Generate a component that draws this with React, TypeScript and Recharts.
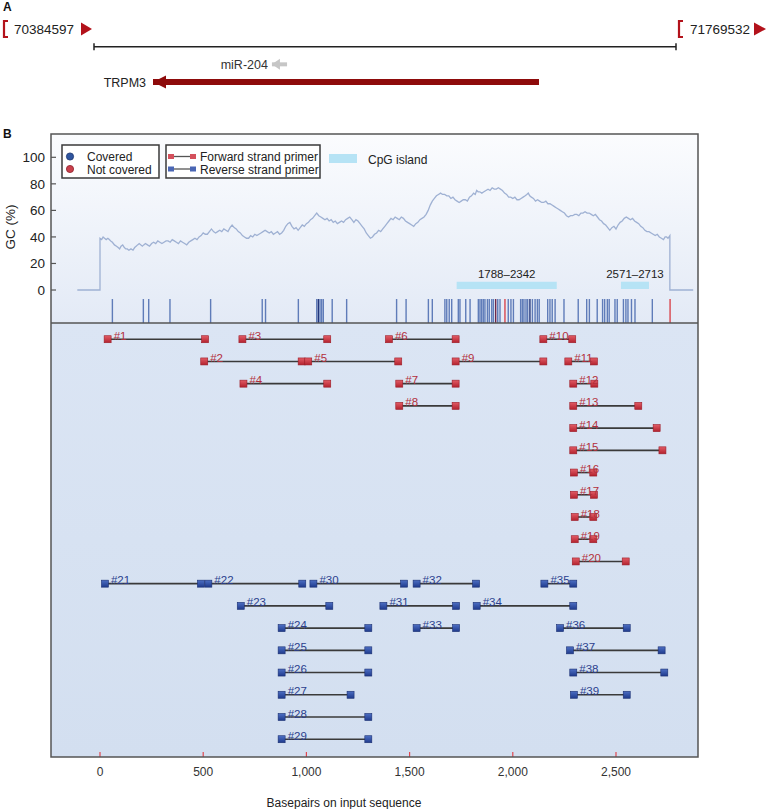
import React from 'react';
import { ComposedChart, Scatter, Line, XAxis, YAxis, ReferenceLine, ReferenceArea } from 'recharts';

const FONT = '"Liberation Sans", Arial, Helvetica, sans-serif';

// ---------- Panel A data ----------
const regionStart = 70384597;
const regionEnd = 71769532;
const trpm3Span = [70525000, 71443500]; // minus strand, tip at start
const mir204Span = [70808000, 70844000];

// ---------- Panel B data ----------
const xTicks = [0, 500, 1000, 1500, 2000, 2500];
const gcTicks = [0, 20, 40, 60, 80, 100];

const gcProfile: [number, number][] = [
  [-110, 0], [0, 0], [0, 39], [8, 38], [15, 40], [22, 39], [30, 38], [38, 39], [45, 38], [52, 37], [60, 36],
  [70, 34], [80, 33], [88, 32], [95, 31], [102, 33], [110, 34], [118, 32], [125, 31], [132, 31], [140, 30],
  [150, 31], [160, 30], [168, 32], [175, 33], [182, 34], [190, 35], [198, 34], [205, 33], [212, 34], [220, 35],
  [230, 34], [240, 33], [250, 35], [260, 36], [270, 35], [280, 37], [290, 36], [300, 35], [310, 36], [320, 37],
  [330, 37], [340, 36], [350, 38], [360, 37], [370, 36], [380, 35], [390, 37], [400, 36], [410, 35], [420, 34],
  [430, 36], [440, 37], [450, 38], [460, 39], [470, 38], [480, 40], [490, 41], [500, 43], [510, 42], [520, 42],
  [530, 44], [540, 46], [550, 44], [560, 43], [570, 44], [580, 45], [590, 44], [600, 46], [610, 45], [620, 44],
  [630, 47], [640, 49], [650, 47], [660, 46], [670, 44], [680, 43], [690, 41], [700, 40], [710, 39], [720, 39],
  [730, 41], [740, 40], [750, 42], [760, 41], [770, 42], [780, 43], [790, 44], [800, 45], [810, 44], [820, 43],
  [830, 44], [840, 42], [850, 43], [860, 44], [870, 42], [880, 43], [890, 45], [900, 48], [910, 50], [920, 51],
  [930, 48], [940, 46], [950, 47], [960, 45], [970, 47], [980, 49], [990, 48], [1000, 50], [1010, 51], [1020, 53],
  [1030, 54], [1040, 56], [1050, 58], [1060, 56], [1070, 55], [1080, 54], [1090, 53], [1100, 54], [1110, 52],
  [1120, 53], [1130, 51], [1140, 52], [1150, 50], [1160, 51], [1170, 52], [1180, 51], [1190, 53], [1200, 54],
  [1210, 55], [1220, 53], [1230, 51], [1240, 53], [1250, 52], [1260, 50], [1270, 48], [1280, 46], [1290, 43],
  [1300, 41], [1310, 39], [1320, 40], [1330, 42], [1340, 43], [1350, 45], [1360, 44], [1370, 46], [1380, 48],
  [1390, 50], [1400, 52], [1410, 54], [1420, 53], [1430, 55], [1440, 54], [1450, 53], [1460, 55], [1470, 54],
  [1480, 52], [1490, 51], [1500, 50], [1510, 49], [1520, 48], [1530, 50], [1540, 51], [1550, 53], [1560, 54],
  [1570, 55], [1580, 57], [1590, 60], [1600, 64], [1610, 67], [1620, 69], [1630, 71], [1640, 72], [1650, 73],
  [1660, 72], [1670, 72], [1680, 71], [1690, 71], [1700, 69], [1710, 70], [1720, 68], [1730, 67], [1740, 66],
  [1750, 67], [1760, 68], [1770, 68], [1780, 67], [1790, 70], [1800, 71], [1810, 73], [1818, 72], [1825, 75],
  [1832, 74], [1840, 74], [1850, 73], [1860, 74], [1870, 75], [1880, 76], [1890, 75], [1900, 77], [1910, 76],
  [1920, 76], [1930, 77], [1940, 76], [1950, 75], [1960, 73], [1970, 72], [1980, 70], [1990, 70], [2000, 69],
  [2010, 70], [2020, 68], [2030, 68], [2040, 69], [2050, 70], [2060, 71], [2068, 72], [2075, 73], [2082, 71],
  [2090, 70], [2100, 69], [2110, 67], [2120, 68], [2130, 67], [2140, 66], [2150, 66], [2160, 67], [2170, 65],
  [2180, 65], [2190, 64], [2200, 63], [2210, 62], [2220, 61], [2230, 60], [2240, 59], [2250, 58], [2260, 56],
  [2270, 55], [2280, 56], [2290, 56], [2300, 57], [2310, 57], [2320, 56], [2330, 58], [2340, 58], [2350, 59],
  [2360, 58], [2370, 58], [2380, 57], [2390, 56], [2400, 57], [2410, 55], [2420, 53], [2430, 52], [2440, 50],
  [2450, 49], [2460, 47], [2470, 45], [2480, 47], [2490, 48], [2500, 46], [2510, 49], [2520, 51], [2530, 52],
  [2540, 54], [2550, 55], [2560, 54], [2570, 53], [2580, 54], [2590, 52], [2600, 51], [2610, 50], [2620, 48],
  [2630, 47], [2640, 45], [2650, 44], [2660, 44], [2670, 43], [2680, 42], [2690, 41], [2700, 42], [2710, 40],
  [2720, 39], [2730, 38], [2738, 40], [2745, 40], [2752, 39], [2761, 41], [2761, 0], [2874, 0],
];

const cpgIslands = [
  { from: 1728, to: 2213, label: '1788–2342' },
  { from: 2524, to: 2660, label: '2571–2713' },
];

const cpgSitesBlue = [
  60, 210, 236, 339, 536, 786, 802, 961, 1050, 1066, 1074, 1082, 1125, 1195, 1437, 1483, 1591, 1610,
  1671, 1680, 1692, 1704, 1736, 1744, 1772, 1793, 1833, 1841, 1849, 1857, 1865, 1877, 1886, 1898,
  1906, 1927, 1938, 1978, 1991, 2003, 2038, 2046, 2054, 2064, 2072, 2095, 2108, 2119, 2128, 2169,
  2180, 2191, 2205, 2248, 2317, 2358, 2371, 2409, 2435, 2445, 2458, 2467, 2495, 2506, 2536, 2548,
  2558, 2575, 2592, 2676,
];
const cpgSitesDark = [1058, 2083];
const cpgSitesMaroon = [1917];
const cpgSitesRed = [1962, 2762];

const forwardPrimers = [
  { id: 1, row: 0, start: 37, end: 509 },
  { id: 2, row: 1, start: 505, end: 977 },
  { id: 3, row: 0, start: 690, end: 1101 },
  { id: 4, row: 2, start: 695, end: 1101 },
  { id: 5, row: 1, start: 1009, end: 1445 },
  { id: 6, row: 0, start: 1400, end: 1723 },
  { id: 7, row: 2, start: 1450, end: 1723 },
  { id: 8, row: 3, start: 1450, end: 1723 },
  { id: 9, row: 1, start: 1723, end: 2148 },
  { id: 10, row: 0, start: 2148, end: 2288 },
  { id: 11, row: 1, start: 2269, end: 2393 },
  { id: 12, row: 2, start: 2293, end: 2395 },
  { id: 13, row: 3, start: 2293, end: 2608 },
  { id: 14, row: 4, start: 2293, end: 2697 },
  { id: 15, row: 5, start: 2293, end: 2725 },
  { id: 16, row: 6, start: 2296, end: 2390 },
  { id: 17, row: 7, start: 2296, end: 2393 },
  { id: 18, row: 8, start: 2300, end: 2390 },
  { id: 19, row: 9, start: 2300, end: 2390 },
  { id: 20, row: 10, start: 2305, end: 2547 },
];

const reversePrimers = [
  { id: 21, row: 11, start: 24, end: 489 },
  { id: 22, row: 11, start: 525, end: 980 },
  { id: 23, row: 12, start: 682, end: 1111 },
  { id: 24, row: 13, start: 880, end: 1300 },
  { id: 25, row: 14, start: 880, end: 1300 },
  { id: 26, row: 15, start: 880, end: 1300 },
  { id: 27, row: 16, start: 880, end: 1214 },
  { id: 28, row: 17, start: 880, end: 1300 },
  { id: 29, row: 18, start: 880, end: 1300 },
  { id: 30, row: 11, start: 1034, end: 1473 },
  { id: 31, row: 12, start: 1373, end: 1725 },
  { id: 32, row: 11, start: 1534, end: 1822 },
  { id: 33, row: 13, start: 1534, end: 1725 },
  { id: 34, row: 12, start: 1825, end: 2293 },
  { id: 35, row: 11, start: 2153, end: 2293 },
  { id: 36, row: 13, start: 2229, end: 2552 },
  { id: 37, row: 14, start: 2277, end: 2721 },
  { id: 38, row: 15, start: 2293, end: 2734 },
  { id: 39, row: 16, start: 2296, end: 2552 },
];

// ---------- layout constants (axis domains) ----------
const X_DOMAIN: [number, number] = [-237.4, 2897.3];
const GC_DOMAIN: [number, number] = [-351.9, 117.56];
const ROW_DOMAIN: [number, number] = [-9.235, 18.8];
const STRIP_TOP = -6.8;
const DIVIDER = -24.9;
const CPG_BAND: [number, number] = [0.75, 6.25];

const gcData = gcProfile.map(([x, y]) => ({ x, y }));

// ---------- shapes ----------
const endShape = (props: any) => {
  const { cx, cy, payload } = props;
  const c = '#b3121b';
  if (payload.side === 'left') {
    return (
      <g>
        <path d={`M${cx - 86},${cy - 8} H${cx - 90} V${cy + 8} H${cx - 86}`} stroke={c} strokeWidth={2.2} fill="none" />
        <text x={cx - 80} y={cy + 5} fontSize={13.5} fill="#222" fontFamily={FONT}>{payload.label}</text>
        <polygon points={`${cx - 13},${cy - 6.5} ${cx - 2},${cy} ${cx - 13},${cy + 6.5}`} fill={c} />
      </g>
    );
  }
  return (
    <g>
      <path d={`M${cx + 7},${cy - 8} H${cx + 3} V${cy + 8} H${cx + 7}`} stroke={c} strokeWidth={2.2} fill="none" />
      <text x={cx + 14} y={cy + 5} fontSize={13.5} fill="#222" fontFamily={FONT}>{payload.label}</text>
      <polygon points={`${cx + 78},${cy - 6.5} ${cx + 90},${cy} ${cx + 78},${cy + 6.5}`} fill={c} />
    </g>
  );
};

const spanTick = (props: any) => {
  const { cx, cy } = props;
  return <line x1={cx} x2={cx} y1={cy - 3.5} y2={cy + 3.5} stroke="#222" strokeWidth={1.5} />;
};

const mirShape = (props: any) => {
  const { cx, cy, payload } = props;
  if (!payload.tip) return <g />;
  return (
    <g>
      <polygon points={`${cx},${cy} ${cx + 8},${cy - 5.5} ${cx + 8},${cy + 5.5}`} fill="#c6c6c6" />
      <text x={cx - 4} y={cy + 4.5} textAnchor="end" fontSize={12.5} fill="#333" fontFamily={FONT}>miR-204</text>
    </g>
  );
};

const geneShape = (props: any) => {
  const { cx, cy, payload } = props;
  if (!payload.tip) return <g />;
  return (
    <g>
      <polygon points={`${cx},${cy} ${cx + 13},${cy - 6.5} ${cx + 13},${cy + 6.5}`} fill="#8e0b0b" />
      <text x={cx - 7} y={cy + 4.5} textAnchor="end" fontSize={12.5} fill="#222" fontFamily={FONT}>TRPM3</text>
    </g>
  );
};

const squareShape = (fill: string, stroke: string) => (props: any) => {
  const { cx, cy } = props;
  return <rect x={cx - 3.5} y={cy - 3.5} width={7} height={7} fill={fill} stroke={stroke} strokeWidth={0.6} />;
};
const redSquare = squareShape('url(#redSq)', '#9c1c27');
const blueSquare = squareShape('url(#blueSq)', '#1a2f72');

const labelShape = (color: string) => (props: any) => {
  const { cx, cy, payload } = props;
  return (
    <text x={cx + 6} y={cy + 0.5} fontSize={11.5} fill={color} fontFamily={FONT}>{payload.label}</text>
  );
};
const fwdLabel = labelShape('#b3303c');
const revLabel = labelShape('#2b3f8e');

const XTick = (props: any) => {
  const { x, y, payload } = props;
  return (
    <g>
      <line x1={x} x2={x} y1={y - 5} y2={y} stroke="#e0474f" strokeWidth={1.2} />
      <text x={x} y={y + 19} textAnchor="middle" fontSize={12} fill="#333" fontFamily={FONT}>
        {Number(payload.value).toLocaleString('en-US')}
      </text>
    </g>
  );
};

const YTick = (props: any) => {
  const { x, y, payload } = props;
  return (
    <g>
      <line x1={x} x2={x + 5} y1={y} y2={y} stroke="#555" strokeWidth={1.2} />
      <text x={x - 6} y={y} dy="0.36em" textAnchor="end" fontSize={13.5} fill="#222" fontFamily={FONT}>
        {payload.value}
      </text>
    </g>
  );
};

const siteLine = (bp: number, color: string, opacity: number, key: string) => (
  <ReferenceLine
    key={key}
    yAxisId="gc"
    segment={[{ x: bp, y: STRIP_TOP }, { x: bp, y: DIVIDER }]}
    stroke={color}
    strokeOpacity={opacity}
    strokeWidth={1.4}
  />
);

function PanelA() {
  return (
    <ComposedChart width={769} height={95} margin={{ top: 0, right: 93, bottom: 0, left: 94 }}>
      <XAxis type="number" dataKey="x" domain={[regionStart, regionEnd]} hide />
      <YAxis type="number" dataKey="y" domain={[-1.641, 3.735]} reversed hide />
      <Scatter
        data={[{ x: regionStart, y: 1 }, { x: regionEnd, y: 1 }]}
        line={{ stroke: '#222', strokeWidth: 1.5 }}
        lineType="joint"
        shape={spanTick}
        isAnimationActive={false}
      />
      <Scatter
        data={[
          { x: regionStart, y: 0, label: '70384597', side: 'left' },
          { x: regionEnd, y: 0, label: '71769532', side: 'right' },
        ]}
        shape={endShape}
        isAnimationActive={false}
      />
      <Scatter
        data={[{ x: mir204Span[0], y: 2, tip: true }, { x: mir204Span[1], y: 2 }]}
        line={{ stroke: '#c6c6c6', strokeWidth: 4 }}
        lineType="joint"
        shape={mirShape}
        isAnimationActive={false}
      />
      <Scatter
        data={[{ x: trpm3Span[0], y: 3, tip: true }, { x: trpm3Span[1], y: 3 }]}
        line={{ stroke: '#8e0b0b', strokeWidth: 6 }}
        lineType="joint"
        shape={geneShape}
        isAnimationActive={false}
      />
    </ComposedChart>
  );
}

function PanelB() {
  return (
    <ComposedChart width={769} height={809} margin={{ top: 134, right: 71, bottom: 0, left: 0 }}>
      <defs>
        <linearGradient id="topBg" x1="0" y1="0" x2="0" y2="1">
          <stop offset="0%" stopColor="#fbfcfe" />
          <stop offset="100%" stopColor="#e3eaf6" />
        </linearGradient>
        <linearGradient id="botBg" x1="0" y1="0" x2="0" y2="1">
          <stop offset="0%" stopColor="#dbe5f4" />
          <stop offset="100%" stopColor="#d3dff0" />
        </linearGradient>
        <linearGradient id="redSq" x1="0" y1="0" x2="0" y2="1">
          <stop offset="0%" stopColor="#e25c66" />
          <stop offset="100%" stopColor="#b3222e" />
        </linearGradient>
        <linearGradient id="blueSq" x1="0" y1="0" x2="0" y2="1">
          <stop offset="0%" stopColor="#4d6fc4" />
          <stop offset="100%" stopColor="#1f3a8c" />
        </linearGradient>
      </defs>
      <XAxis
        type="number"
        dataKey="x"
        domain={X_DOMAIN}
        ticks={xTicks}
        interval={0}
        allowDataOverflow
        axisLine={false}
        tickLine={false}
        tickSize={0}
        tickMargin={0}
        height={52}
        tick={XTick}
      />
      <YAxis
        yAxisId="gc"
        type="number"
        dataKey="y"
        domain={GC_DOMAIN}
        ticks={gcTicks}
        interval={0}
        allowDataOverflow
        axisLine={false}
        tickLine={false}
        tickSize={0}
        tickMargin={0}
        width={51}
        tick={YTick}
      />
      <YAxis yAxisId="row" type="number" dataKey="y" domain={ROW_DOMAIN} reversed hide allowDataOverflow />

      <ReferenceArea yAxisId="gc" y2={DIVIDER} fill="url(#topBg)" fillOpacity={1} stroke="none" />
      <ReferenceArea yAxisId="gc" y1={DIVIDER} fill="url(#botBg)" fillOpacity={1} stroke="none" />

      {cpgIslands.map((c) => (
        <ReferenceArea
          key={c.label}
          yAxisId="gc"
          x1={c.from}
          x2={c.to}
          y1={CPG_BAND[0]}
          y2={CPG_BAND[1]}
          fill="#b6e3f5"
          fillOpacity={1}
          stroke="none"
          label={{ value: c.label, position: 'top', offset: 4, fontSize: 11.5, fill: '#222', fontFamily: FONT }}
        />
      ))}

      {cpgSitesBlue.map((bp, i) => siteLine(bp, '#4868ae', 0.85, 'b' + i))}
      {cpgSitesDark.map((bp, i) => siteLine(bp, '#22357a', 1, 'd' + i))}
      {cpgSitesMaroon.map((bp, i) => siteLine(bp, '#6e2648', 1, 'm' + i))}
      {cpgSitesRed.map((bp, i) => siteLine(bp, '#d9464e', 1, 'r' + i))}

      <ReferenceLine yAxisId="gc" y={DIVIDER} stroke="#555" strokeWidth={1.5} />

      <Line
        yAxisId="gc"
        data={gcData}
        dataKey="y"
        type="linear"
        stroke="#9fb1d3"
        strokeWidth={1.3}
        dot={false}
        activeDot={false}
        isAnimationActive={false}
      />

      {forwardPrimers.map((p) => (
        <Scatter
          key={'f' + p.id}
          yAxisId="row"
          data={[{ x: p.start, y: p.row }, { x: p.end, y: p.row }]}
          line={{ stroke: '#3a3a3a', strokeWidth: 1.6 }}
          lineType="joint"
          shape={redSquare}
          isAnimationActive={false}
        />
      ))}
      {reversePrimers.map((p) => (
        <Scatter
          key={'r' + p.id}
          yAxisId="row"
          data={[{ x: p.start, y: p.row }, { x: p.end, y: p.row }]}
          line={{ stroke: '#3a3a3a', strokeWidth: 1.6 }}
          lineType="joint"
          shape={blueSquare}
          isAnimationActive={false}
        />
      ))}
      <Scatter
        yAxisId="row"
        data={forwardPrimers.map((p) => ({ x: p.start, y: p.row, label: '#' + p.id }))}
        shape={fwdLabel}
        isAnimationActive={false}
      />
      <Scatter
        yAxisId="row"
        data={reversePrimers.map((p) => ({ x: p.start, y: p.row, label: '#' + p.id }))}
        shape={revLabel}
        isAnimationActive={false}
      />
    </ComposedChart>
  );
}

function Overlay() {
  return (
    <svg width={769} height={809} style={{ position: 'absolute', left: 0, top: 0, pointerEvents: 'none' }} fontFamily={FONT}>
      <text x={3} y={11} fontSize={12} fontWeight="bold" fill="#111">A</text>
      <text x={3} y={138} fontSize={12} fontWeight="bold" fill="#111">B</text>
      <text x={10} y={227} dy="0.36em" fontSize={13.5} fill="#222" textAnchor="middle" transform="rotate(-90 10 227)">GC (%)</text>
      <text x={344} y={807} fontSize={12} fill="#222" textAnchor="middle">Basepairs on input sequence</text>
      {/* plot frame */}
      <rect x={51} y={134} width={647} height={623} fill="none" stroke="#555" strokeWidth={1.5} />
      {/* legend 1 */}
      <rect x={62} y={145} width={97} height={33} fill="#fff" fillOpacity={0.92} stroke="#3a3a3a" strokeWidth={1.5} />
      <circle cx={70} cy={156.5} r={3.6} fill="#2f559f" stroke="#1b336d" strokeWidth={0.8} />
      <circle cx={70} cy={169} r={3.6} fill="#c9404c" stroke="#8e1f2a" strokeWidth={0.8} />
      <text x={87} y={161} fontSize={12} fill="#222">Covered</text>
      <text x={87} y={174} fontSize={12} fill="#222">Not covered</text>
      {/* legend 2 */}
      <rect x={166} y={145} width={154} height={33} fill="#fff" fillOpacity={0.92} stroke="#3a3a3a" strokeWidth={1.5} />
      <line x1={171} x2={193} y1={156.5} y2={156.5} stroke="#555" strokeWidth={1.3} />
      <rect x={168} y={154} width={6} height={5} fill="#d4505c" />
      <rect x={190} y={154} width={6} height={5} fill="#d4505c" />
      <line x1={171} x2={193} y1={169} y2={169} stroke="#555" strokeWidth={1.3} />
      <rect x={168} y={166.5} width={6} height={5} fill="#4a66b4" />
      <rect x={190} y={166.5} width={6} height={5} fill="#4a66b4" />
      <text x={200} y={161} fontSize={12} fill="#222">Forward strand primer</text>
      <text x={200} y={174} fontSize={12} fill="#222">Reverse strand primer</text>
      {/* CpG island legend */}
      <rect x={329} y={154} width={28} height={9} fill="#b6e3f5" />
      <text x={368} y={164} fontSize={12} fill="#222">CpG island</text>
    </svg>
  );
}

export default function App() {
  return (
    <div style={{ position: 'absolute', left: 0, top: 0, width: 769, height: 809, background: '#fff', fontFamily: FONT, overflow: 'hidden' }}>
      <div style={{ position: 'absolute', left: 0, top: 0 }}>
        <PanelB />
      </div>
      <div style={{ position: 'absolute', left: 0, top: 0 }}>
        <PanelA />
      </div>
      <Overlay />
    </div>
  );
}
